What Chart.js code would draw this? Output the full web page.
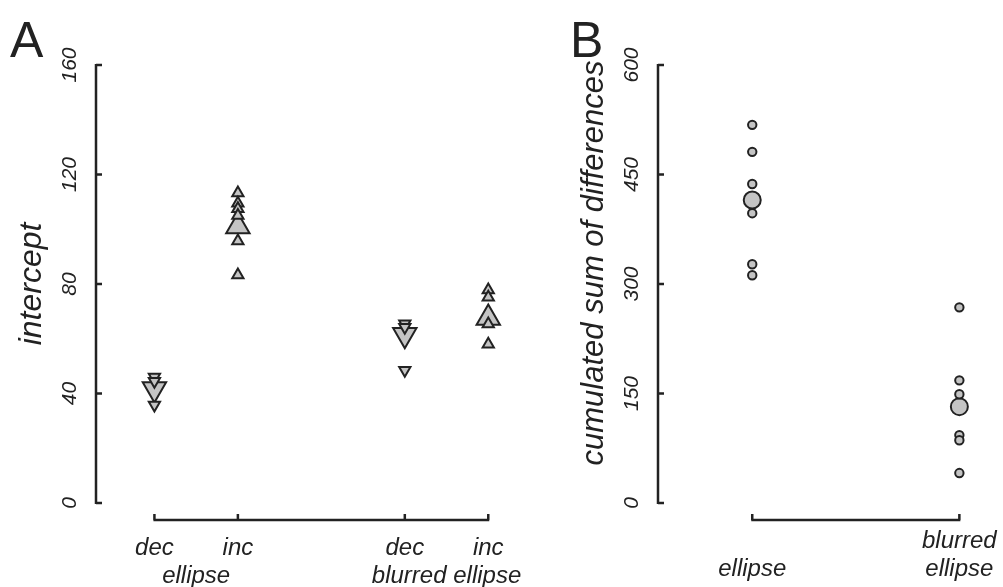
<!DOCTYPE html>
<html>
<head>
<meta charset="utf-8">
<script src="https://cdn.jsdelivr.net/npm/chart.js@4/dist/chart.umd.min.js"></script>
<style>
  body { margin: 0; background: #fff; }
  #wrapA { position: absolute; left: 0; top: 0; width: 560px; height: 587px; }
  #wrapB { position: absolute; left: 560px; top: 0; width: 443px; height: 587px; }
</style>
</head>
<body>
<div id="wrapA"><canvas id="chartA"></canvas></div>
<div id="wrapB"><canvas id="chartB"></canvas></div>
<script>
// Panel A data (intercept)
const conditionsA = ['dec', 'inc', 'dec', 'inc'];
const conditionPosA = [1, 2, 4, 5];
const groupLabelsA = ['ellipse', 'blurred ellipse'];
const groupPosA = [1.5, 4.5];
const interceptDecEllipse = [46.0, 44.5, 35.8];
const interceptIncEllipse = [113.2, 109.5, 107.5, 105.0, 95.7, 83.3];
const interceptDecBlurred = [65.5, 64.2, 48.5];
const interceptIncBlurred = [77.8, 75.2, 65.4, 58.0];
const interceptMeans = [41.6, 101.0, 61.5, 67.6];
const yTicksA = [0, 40, 80, 120, 160];

// Panel B data (cumulated sum of differences)
const categoriesB = [['', 'ellipse'], ['blurred', 'ellipse']];
const categoryPosB = [1, 2];
const sumEllipse = [518, 481, 437, 397, 327, 312];
const sumBlurred = [268, 168, 149, 93, 86, 41];
const sumMeans = [415, 132];
const yTicksB = [0, 150, 300, 450, 600];

const ink = '#222222';
const fill = '#c4c4c4';
const fontFam = '"Liberation Sans", Arial, sans-serif';

function pts(x, values) {
    return values.map(v => ({ x: x, y: v }));
}

function smallSet(data, style, rotation, radius) {
    return {
        data: data,
        pointStyle: style,
        rotation: rotation,
        pointRotation: rotation,
        pointRadius: radius,
        pointBackgroundColor: fill,
        pointBorderColor: ink,
        pointBorderWidth: 2,
        showLine: false
    };
}

// draws range-frame axes, ticks and all labels from the chart's scales
function framePlugin(cfg) {
    return {
        id: 'frame',
        afterDraw(chart) {
            const ctx = chart.ctx;
            const xs = chart.scales.x;
            const ys = chart.scales.y;
            const area = chart.chartArea;
            ctx.save();
            ctx.strokeStyle = ink;
            ctx.fillStyle = ink;
            ctx.lineWidth = 2.5;
            ctx.lineCap = 'butt';

            // y axis
            const ax = area.left;
            const yTop = ys.getPixelForValue(cfg.yTicks[cfg.yTicks.length - 1]);
            const yBot = ys.getPixelForValue(cfg.yTicks[0]);
            ctx.beginPath();
            ctx.moveTo(ax, yTop - 1);
            ctx.lineTo(ax, yBot + 1);
            cfg.yTicks.forEach(t => {
                const py = ys.getPixelForValue(t);
                ctx.moveTo(ax, py);
                ctx.lineTo(ax + 6, py);
            });
            ctx.stroke();

            ctx.font = 'italic 21px ' + fontFam;
            ctx.textAlign = 'center';
            ctx.textBaseline = 'middle';
            cfg.yTicks.forEach(t => {
                const py = ys.getPixelForValue(t);
                ctx.save();
                ctx.translate(ax - 26, py);
                ctx.rotate(-Math.PI / 2);
                ctx.fillText(String(t), 0, 0);
                ctx.restore();
            });

            // y title
            ctx.font = 'italic ' + cfg.titleSize + 'px ' + fontFam;
            ctx.save();
            ctx.translate(ax - 64, cfg.titleY);
            ctx.rotate(-Math.PI / 2);
            ctx.fillText(cfg.title, 0, 0);
            ctx.restore();

            // x axis
            const ay = area.bottom + 17;
            const xL = xs.getPixelForValue(cfg.xPos[0]);
            const xR = xs.getPixelForValue(cfg.xPos[cfg.xPos.length - 1]);
            ctx.beginPath();
            ctx.moveTo(xL - 1, ay);
            ctx.lineTo(xR + 1, ay);
            cfg.xPos.forEach(p => {
                const px = xs.getPixelForValue(p);
                ctx.moveTo(px, ay);
                ctx.lineTo(px, ay - 6);
            });
            ctx.stroke();

            ctx.font = 'italic 24px ' + fontFam;
            cfg.xLabels.forEach((lab, i) => {
                const px = xs.getPixelForValue(cfg.xPos[i]);
                const lines = Array.isArray(lab) ? lab : [lab];
                lines.forEach((ln, j) => {
                    if (ln) ctx.fillText(ln, px, cfg.xLabelY + j * 28);
                });
            });
            if (cfg.groups) {
                cfg.groups.forEach((g, i) => {
                    ctx.fillText(g, xs.getPixelForValue(cfg.groupPos[i]), cfg.xLabelY + 28);
                });
            }

            // panel letter
            ctx.font = '50px ' + fontFam;
            ctx.textAlign = 'left';
            ctx.textBaseline = 'alphabetic';
            ctx.fillText(cfg.letter, 10, 57);
            ctx.restore();
        }
    };
}

function baseOptions(xmin, xmax, ymax, pad) {
    return {
        responsive: true,
        maintainAspectRatio: false,
        animation: false,
        layout: { padding: pad },
        plugins: { legend: { display: false }, tooltip: { enabled: false } },
        scales: {
            x: { type: 'linear', min: xmin, max: xmax, display: false },
            y: { type: 'linear', min: 0, max: ymax, display: false }
        }
    };
}

new Chart(document.getElementById('chartA'), {
    type: 'scatter',
    data: {
        datasets: [
            smallSet(pts(conditionPosA[0], interceptDecEllipse), 'triangle', 180, 6.5),
            smallSet(pts(conditionPosA[1], interceptIncEllipse), 'triangle', 0, 6.5),
            smallSet(pts(conditionPosA[2], interceptDecBlurred), 'triangle', 180, 6.5),
            smallSet(pts(conditionPosA[3], interceptIncBlurred), 'triangle', 0, 6.5),
            smallSet(conditionPosA.map((x, i) => ({ x: x, y: interceptMeans[i] })), 'triangle', [180, 0, 180, 0], 13.5)
        ]
    },
    options: baseOptions(0.3, 5.5, 160, { left: 96, top: 65, right: 30, bottom: 84 }),
    plugins: [framePlugin({
        yTicks: yTicksA, title: 'intercept', titleSize: 32, titleY: 284, letter: 'A',
        xPos: conditionPosA, xLabels: conditionsA, xLabelY: 548,
        groups: groupLabelsA, groupPos: groupPosA
    })]
});

new Chart(document.getElementById('chartB'), {
    type: 'scatter',
    data: {
        datasets: [
            smallSet(pts(categoryPosB[0], sumEllipse), 'circle', 0, 4.2),
            smallSet(pts(categoryPosB[1], sumBlurred), 'circle', 0, 4.2),
            smallSet(categoryPosB.map((x, i) => ({ x: x, y: sumMeans[i] })), 'circle', 0, 8.5)
        ]
    },
    options: baseOptions(0.545, 2.16, 600, { left: 98, top: 65, right: 7.5, bottom: 84 }),
    plugins: [framePlugin({
        yTicks: yTicksB, title: 'cumulated sum of differences', titleSize: 31, titleY: 263, letter: 'B',
        xPos: categoryPosB, xLabels: categoriesB, xLabelY: 541
    })]
});
</script>
</body>
</html>
